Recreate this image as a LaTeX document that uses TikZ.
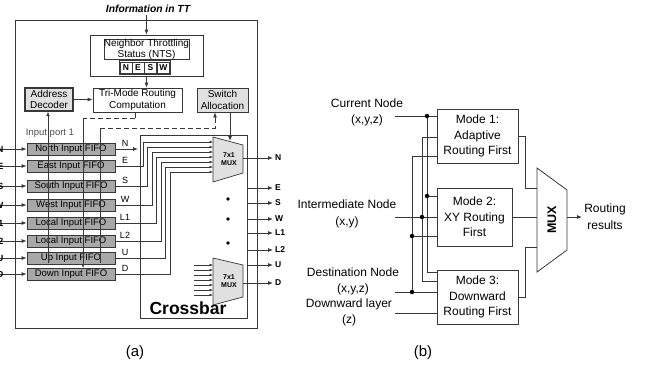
\documentclass[tikz,border=0pt]{standalone}
\usepackage{fontspec}
\setmainfont{Liberation Sans}
\usetikzlibrary{arrows.meta}
\definecolor{lc}{gray}{0.22}
\definecolor{fifog}{gray}{0.66}
\definecolor{lightg}{gray}{0.88}
\begin{document}
\begin{tikzpicture}[x=1pt,y=-1pt,
  ln/.style={line width=0.8pt,draw=lc},
  arr/.style={ln,-{Latex[length=5pt,width=4pt]}},
  arrs/.style={line width=0.6pt,draw=lc,-{Latex[length=3.5pt,width=2.8pt]}},
  thinln/.style={line width=0.5pt,draw=lc},
  fifo/.style={draw=lc,line width=0.8pt,fill=fifog,minimum width=88pt,minimum height=12pt,inner sep=0pt,font=\fontsize{9.5}{10}\selectfont},
  blk/.style={draw=lc,line width=0.8pt,align=center,inner sep=0pt,font=\fontsize{10}{11.5}\selectfont},
  modebox/.style={draw=lc,line width=0.9pt,align=center,inner sep=0pt,font=\fontsize{12}{15.5}\selectfont},
  lbl/.style={font=\fontsize{9}{9}\selectfont,inner sep=1pt,anchor=south},
  olbl/.style={font=\bfseries\fontsize{8.5}{9}\selectfont,anchor=west,inner sep=1pt},
  btxt/.style={align=center,font=\fontsize{12}{16.5}\selectfont,inner sep=0pt},
  jdot/.style={circle,fill=black,inner sep=0pt,minimum size=4.5pt},
  nesw/.style={draw=lc,line width=0.6pt,minimum width=12pt,minimum height=11pt,inner sep=0pt,font=\bfseries\fontsize{8.5}{9}\selectfont},
  muxa/.style={draw=lc,line width=0.7pt,fill=lightg}
]
\useasboundingbox (0,0) rectangle (647,373);

% ================= (a) =================
\node[font=\bfseries\itshape\fontsize{10.3}{10}\selectfont] (info) at (148,9) {Information in TT};
\draw[ln] (15,20) rectangle (257,328);

\node[blk,minimum width=113pt,minimum height=41pt] (nts) at (146.5,55.5) {};
\node[blk,anchor=north] (ntstxt) at (146.5,38.5) {Neighbor Throttling\\Status (NTS)};
\draw[lc,line width=0.6pt] (119,60.5) rectangle (170.5,74);
\node[nesw] (bn) at (126,67.5) {N};
\node[nesw] (be) at (138,67.5) {E};
\node[nesw] (bs) at (150.5,67.5) {S};
\node[nesw] (bw) at (163.5,67.5) {W};
\coordinate (infs) at (146.5,15);
\draw[arr] (infs) -- (infs |- nts.north);

\node[blk,minimum width=89pt,minimum height=24pt] (tri) at (137.5,100) {Tri-Mode Routing\\Computation};
\draw[arr] (nts.south) -- (nts.south |- tri.north);
\node[blk,fill=lightg,minimum width=48pt,minimum height=23pt,line width=1.1pt] (ad) at (49,99.5) {Address\\Decoder};
\node[blk,fill=lightg,minimum width=51pt,minimum height=24pt] (sw) at (222.5,100) {Switch\\Allocation};
\draw[arr] (ad.east) -- (tri.west |- ad.east);

% dashed request lines
\coordinate (d1) at (135,118);
\coordinate (d2) at (83,118);
\draw[ln] (tri.south -| d1) -- (d1);
\draw[ln,dash pattern=on 5pt off 3pt] (d1) -- (d2);
\coordinate (d3) at (100,128);
\coordinate (d4) at (215,128);
\coordinate (d5) at (215,121);
\draw[ln,dash pattern=on 5pt off 3pt] (d3) -- (d4) -- (d5);
\draw[arr] (d5) -- (d5 |- sw.south);

\node[font=\fontsize{9.5}{10}\selectfont,text=black!70] (inport) at (50,133) {Input port 1};

% crossbar
\draw[ln] (140,135) rectangle (247,318);
\node[font=\bfseries\fontsize{17.5}{17}\selectfont] (xbar) at (188,308.5) {Crossbar};

% FIFOs
\foreach \nm/\txt/\y/\lab in {fn/North Input FIFO/149/N, fe/East Input FIFO/166/E, fs/South Input FIFO/186/S, fw/West Input FIFO/205/W, fla/Local Input FIFO/223/L1, flb/Local Input FIFO/241/L2, fu/Up Input FIFO/258/U, fd/Down Input FIFO/274/D}{
  \node[fifo] (\nm) at (71,\y) {\txt};
  \coordinate (in\nm) at (0,\y);
  \draw[arr] (in\nm) -- (\nm.west);
  \node[anchor=east,font=\bfseries\fontsize{9}{9}\selectfont,inner sep=0pt] (il\nm) at (3.5,\y) {\lab};
  \node[lbl] (ol\nm) at (125,\y-1) {\lab};
}

% vertical header lines through FIFOs
\coordinate (v1) at (48,263);
\draw[thinln,-{Latex[length=4.5pt,width=3.5pt]}] (v1) -- (v1 |- ad.south);
\coordinate (v2) at (83,268);
\draw[thinln,-{Latex[length=4pt,width=3.5pt]}] (d2) -- (v2);
\coordinate (v3) at (100,263);
\draw[thinln] (d3) -- (v3);

% N input into crossbar
\coordinate (nin) at (138,149);
\draw[arr] (fn.east) -- (nin);

% upper MUX
\coordinate (ma1) at (213,137);
\coordinate (ma2) at (243,145);
\coordinate (ma3) at (243,173);
\coordinate (ma4) at (213,182);
\draw[muxa] (ma1) -- (ma2) -- (ma3) -- (ma4) -- cycle;
\node[font=\bfseries\fontsize{7}{8.5}\selectfont,align=center,inner sep=0pt] (muxal) at (229,159) {7x1\\MUX};
\foreach \nm/\vx/\ry in {fe/143/142, fs/147.5/147, fw/152/152, fla/156.5/157, flb/161/162, fu/165.5/167, fd/170/172}{
  \draw[arrs] (\nm.east) -| (\vx,\ry) -- (213,\ry);
}

% lower MUX
\coordinate (mb1) at (213,258);
\coordinate (mb2) at (243,265);
\coordinate (mb3) at (243,297);
\coordinate (mb4) at (213,305);
\draw[muxa] (mb1) -- (mb2) -- (mb3) -- (mb4) -- cycle;
\node[font=\bfseries\fontsize{7}{8.5}\selectfont,align=center,inner sep=0pt] (muxbl) at (229,281) {7x1\\MUX};
\foreach \i in {0,...,6}{
  \draw[arrs] (194,{265+5*\i}) -- (213,{265+5*\i});
}

% dots
\foreach \y in {199,219,243}{ \fill[black] (228,\y) circle (1.8pt); }

% switch allocation to MUX
\coordinate (s1) at (230,0);
\coordinate (s2) at (230,141);
\draw[arr] (sw.south -| s1) -- (s2);

% outputs
\foreach \y/\lab/\x in {158/N/243, 188/E/247, 203/S/247, 219/W/247, 233/L1/247, 250/L2/247, 265/U/247, 283/D/243}{
  \coordinate (os\lab) at (\x,\y);
  \coordinate (oe\lab) at (273,\y);
  \draw[arr] (os\lab) -- (oe\lab);
  \node[olbl] (ot\lab) at (274,\y) {\lab};
}

\node[font=\fontsize{15}{15}\selectfont] (la) at (135,353) {(a)};

% ================= (b) =================
\node[modebox,minimum width=81pt,minimum height=54pt] (m1) at (477.5,136) {Mode 1:\\Adaptive\\Routing First};
\node[modebox,minimum width=75pt,minimum height=58pt] (m2) at (474.5,217) {Mode 2:\\XY Routing\\First};
\node[modebox,minimum width=81pt,minimum height=54pt] (m3) at (477.5,297) {Mode 3:\\Downward\\Routing First};

\coordinate (bm1) at (537,168);
\coordinate (bm2) at (567,190);
\coordinate (bm3) at (567,250);
\coordinate (bm4) at (537,272);
\draw[ln] (bm1) -- (bm2) -- (bm3) -- (bm4) -- cycle;
\node[rotate=90,font=\bfseries\fontsize{12.5}{13}\selectfont] (bmux) at (552,220) {MUX};

\draw[ln] (m1.east) -| (525,188) -- (537,188);
\draw[ln] (m2.east) -- (537,217);
\draw[ln] (m3.east) -| (525,247) -- (537,247);

\coordinate (bout) at (567,217);
\coordinate (rr) at (582,217);
\draw[arr] (bout) -- (rr);
\node[btxt] (res) at (605,216.5) {Routing\\results};

\node[btxt] (cur) at (367,112.5) {Current Node\\(x,y,z)};
\node[btxt] (inter) at (347,214) {Intermediate Node\\(x,y)};
\node[btxt] (dest) at (353,281.5) {Destination Node\\(x,y,z)};
\node[btxt] (down) at (349,312.5) {Downward layer\\(z)};

% current
\draw[ln] (395,116) -- (437,116);
\draw[ln] (427,116) -- (427,272) -- (437,272);
\draw[ln] (427,196) -- (437,196);
% intermediate
\draw[ln] (395,217) -- (437,217);
\draw[ln] (437,137) -- (422,137) -- (422,281) -- (437,281);
% destination
\draw[ln] (395,292) -- (437,292);
\draw[ln] (437,156) -- (412,156) -- (412,292);
\draw[ln] (412,236) -- (437,236);
% downward
\draw[ln] (395,313) -- (437,313);

\node[jdot] (j1) at (427,116) {};
\node[jdot] (j2) at (427,196) {};
\node[jdot] (j3) at (422,217) {};
\node[jdot] (j4) at (412,236) {};
\node[jdot] (j5) at (412,292) {};

\node[font=\fontsize{15}{15}\selectfont] (lb) at (423,353) {(b)};
\end{tikzpicture}
\end{document}
